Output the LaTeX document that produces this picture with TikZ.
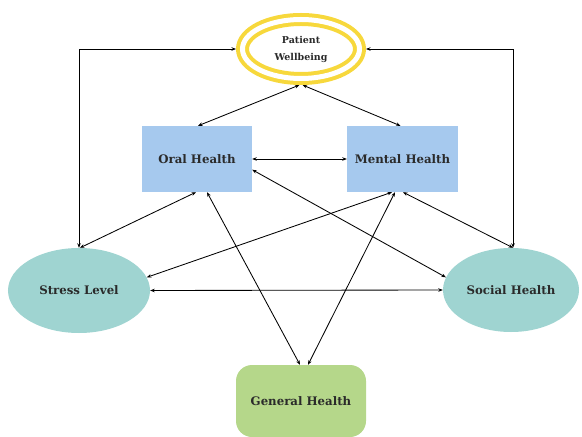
\documentclass[tikz,border=0pt]{standalone}
\usepackage{fontspec}
\setmainfont{DejaVu Serif}
\usetikzlibrary{arrows.meta,shapes.geometric}

\definecolor{gold}{HTML}{F7D83C}
\definecolor{skyblue}{HTML}{A6C9EE}
\definecolor{teal}{HTML}{9FD4D1}
\definecolor{leaf}{HTML}{B5D78A}
\definecolor{ink}{HTML}{2A2A2A}

\begin{document}
\begin{tikzpicture}[x=1bp, y=-1bp,
    label/.style={text=ink, font=\bfseries\fontsize{11.8}{14}\selectfont, align=center, inner sep=0pt},
    ring/.style={ellipse, draw=gold, line width=4bp, double=white, double distance=5bp,
        minimum width=117bp, minimum height=59bp, outer sep=6.5bp},
    boxnode/.style={rectangle, fill=skyblue, minimum width=110bp, minimum height=66bp},
    blob/.style={ellipse, fill=teal, minimum width=142bp, minimum height=85bp},
    link/.style={line width=0.85pt, {Stealth[length=4.5pt,width=3.5pt]}-{Stealth[length=4.5pt,width=3.5pt]}}]
    \useasboundingbox (0,0) rectangle (582,437);

    \node[ring, label, font=\bfseries\fontsize{9.5}{17}\selectfont] (pw) at (301,49) {Patient\\Wellbeing};
    \node[boxnode, label] (oral) at (197,159) {Oral Health};
    \node[boxnode, label, minimum width=111bp] (mental) at (402.5,159) {Mental Health};
    \node[blob, label] (stress) at (79,290.5) {Stress Level};
    \node[blob, label, minimum width=136bp, minimum height=84bp] (social) at (511,290) {Social Health};
    \node[label, fill=leaf, rounded corners=16bp, minimum width=130bp, minimum height=72bp] (general) at (301,401) {General Health};

    % around the outside
    \draw[link] (stress.north) |- (pw.west);
    \draw[link] ([xshift=2bp]social.north) |- (pw.east);

    % wellbeing to the boxes
    \draw[link] ([xshift=-1.5bp]pw.south) -- ([xshift=1bp]oral.north);
    \draw[link] ([xshift=1.5bp]pw.south) -- ([xshift=-2bp]mental.north);
    \draw[link] (oral.east) -- (mental.west);

    % crossing links
    \draw[link] (oral.-11) -- (social.169);
    \draw[link] ([xshift=-10.5bp]mental.south) -- (stress.11);
    \draw[link] ([xshift=0.5bp]mental.south) -- ([xshift=2bp]social.north);
    \draw[link] (stress.east) -- (social.west);
    \draw[link] ([xshift=-1bp]oral.south) -- ([xshift=1bp]stress.north);
    \draw[link] ([xshift=10bp]oral.south) -- ([xshift=-1bp]general.north);
    \draw[link] ([xshift=-7.5bp]mental.south) -- ([xshift=7bp]general.north);
\end{tikzpicture}
\end{document}
